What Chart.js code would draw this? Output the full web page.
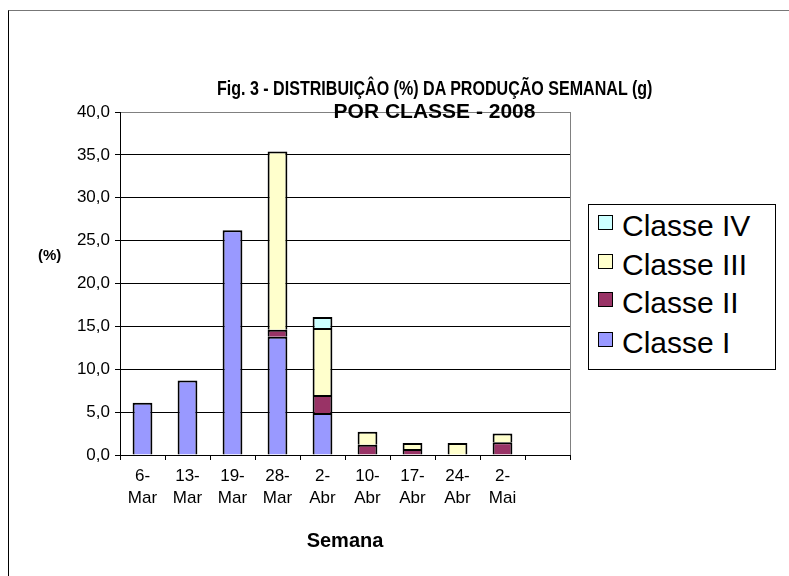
<!DOCTYPE html>
<html>
<head>
<meta charset="utf-8">
<script src="https://cdn.jsdelivr.net/npm/chart.js@4/dist/chart.umd.min.js"></script>
<style>
    html, body { margin: 0; padding: 0; background: #fff; overflow: hidden; }
    body { width: 789px; height: 576px; position: relative; font-family: 'Liberation Sans', Arial, sans-serif; }
    #frame { position: absolute; left: 8px; top: 10px; width: 1000px; height: 1000px;
             border-left: 1px solid #000; border-top: 1px solid #777; }
    #wrap { position: absolute; left: 0; top: 0; width: 789px; height: 576px; }
    #title { position: absolute; left: 0; width: 869px; top: 76px; text-align: center;
             font-weight: bold; font-size: 21px; line-height: 23px; color: #000; }
    #title .l1 { display: inline-block; transform: scaleX(0.765); transform-origin: center; white-space: nowrap; }
    #ytitle { position: absolute; left: 38px; top: 246px; font-weight: bold; font-size: 15px; color: #000; }
    #legend { position: absolute; left: 588px; top: 204px; width: 188px; height: 166px;
              box-sizing: border-box; border: 1px solid #000; background: #fff; }
    .item { position: absolute; left: 9px; height: 36px; line-height: 36px; font-size: 30px; color: #000; white-space: nowrap; }
    .sw { display: inline-block; width: 13px; height: 13px; border: 1px solid #000; margin-right: 9px; vertical-align: 6px; }
</style>
</head>
<body>
<div id="frame"></div>
<div id="wrap"><canvas id="chart" width="789" height="576"></canvas></div>
<div id="title"><span class="l1">Fig. 3 - DISTRIBUIÇÂO (%) DA PRODUÇÃO SEMANAL (g)</span><br>POR CLASSE - 2008</div>
<div id="ytitle">(%)</div>
<div id="legend"></div>
<script>
// Semanas (a última categoria fica vazia, como no original)
const semanas = [['6-', 'Mar'], ['13-', 'Mar'], ['19-', 'Mar'], ['28-', 'Mar'], ['2-', 'Abr'],
                 ['10-', 'Abr'], ['17-', 'Abr'], ['24-', 'Abr'], ['2-', 'Mai'], ''];

// Percentagem por classe (empilhado)
const classeI   = [6.1, 8.7, 26.2, 13.8, 4.9, null, null, null, null, null];
const classeII  = [null, null, null, 0.8, 2.1, 1.2, 0.7, null, 1.5, null];
const classeIII = [null, null, null, 20.8, 7.8, 1.5, 0.7, 1.4, 1.0, null];
const classeIV  = [null, null, null, null, 1.3, null, null, null, null, null];

const yTicks = [0, 5, 10, 15, 20, 25, 30, 35, 40];

const series = [
    { label: 'Classe I',   data: classeI,   color: '#9999FF' },
    { label: 'Classe II',  data: classeII,  color: '#993366' },
    { label: 'Classe III', data: classeIII, color: '#FFFFCC' },
    { label: 'Classe IV',  data: classeIV,  color: '#CCFFFF' }
];

// legenda em HTML (ordem invertida, como no Excel)
const legendEl = document.getElementById('legend');
const tops = [3, 42, 80, 120];
series.slice().reverse().forEach(function (s, i) {
    const div = document.createElement('div');
    div.className = 'item';
    div.style.top = tops[i] + 'px';
    div.innerHTML = '<span class="sw" style="background:' + s.color + '"></span>' + s.label;
    legendEl.appendChild(div);
});

// borda direita da área do gráfico (cinza)
const plotFrame = {
    id: 'plotFrame',
    beforeDatasetsDraw(chart) {
        const { ctx, chartArea: a } = chart;
        ctx.save();
        ctx.strokeStyle = '#808080';
        ctx.lineWidth = 1;
        ctx.beginPath();
        ctx.moveTo(Math.round(a.right) + 0.5, a.top);
        ctx.lineTo(Math.round(a.right) + 0.5, a.bottom);
        ctx.stroke();
        ctx.restore();
    }
};

const fontFamily = "'Liberation Sans', Arial, sans-serif";

new Chart(document.getElementById('chart'), {
    type: 'bar',
    data: {
        labels: semanas,
        datasets: series.map(function (s) {
            return {
                label: s.label,
                data: s.data,
                backgroundColor: s.color,
                borderColor: '#000',
                borderWidth: 2,
                barPercentage: 0.44,
                categoryPercentage: 1.0
            };
        })
    },
    options: {
        responsive: false,
        animation: false,
        layout: { padding: { left: 0, right: 219, top: 112, bottom: 0 } },
        plugins: {
            legend: { display: false },
            tooltip: { enabled: false }
        },
        scales: {
            x: {
                stacked: true,
                offset: true,
                grid: { offset: true, drawOnChartArea: false, drawTicks: true, tickLength: 5, color: '#000' },
                border: { color: '#000', width: 1 },
                ticks: {
                    color: '#000',
                    maxRotation: 0,
                    autoSkip: false,
                    padding: 5,
                    font: { size: 17, family: fontFamily, lineHeight: 1.3 }
                },
                title: {
                    display: true,
                    text: 'Semana',
                    color: '#000',
                    font: { size: 20, weight: 'bold', family: fontFamily },
                    padding: { top: 0, bottom: 23 }
                },
                afterFit: function (scale) { scale.height = 121; }
            },
            y: {
                stacked: true,
                min: 0,
                max: 40,
                afterBuildTicks: function (scale) {
                    scale.ticks = yTicks.map(function (v) { return { value: v }; });
                },
                grid: {
                    color: function (c) { return c.tick && c.tick.value === 40 ? '#808080' : '#000'; },
                    tickColor: '#000',
                    tickLength: 5,
                    lineWidth: 1
                },
                border: { color: '#000', width: 1 },
                ticks: {
                    color: '#000',
                    padding: 5,
                    font: { size: 17, family: fontFamily },
                    callback: function (v) { return Number(v).toFixed(1).replace('.', ','); }
                },
                afterFit: function (scale) { scale.width = 120; }
            }
        }
    },
    plugins: [plotFrame]
});
</script>
</body>
</html>
